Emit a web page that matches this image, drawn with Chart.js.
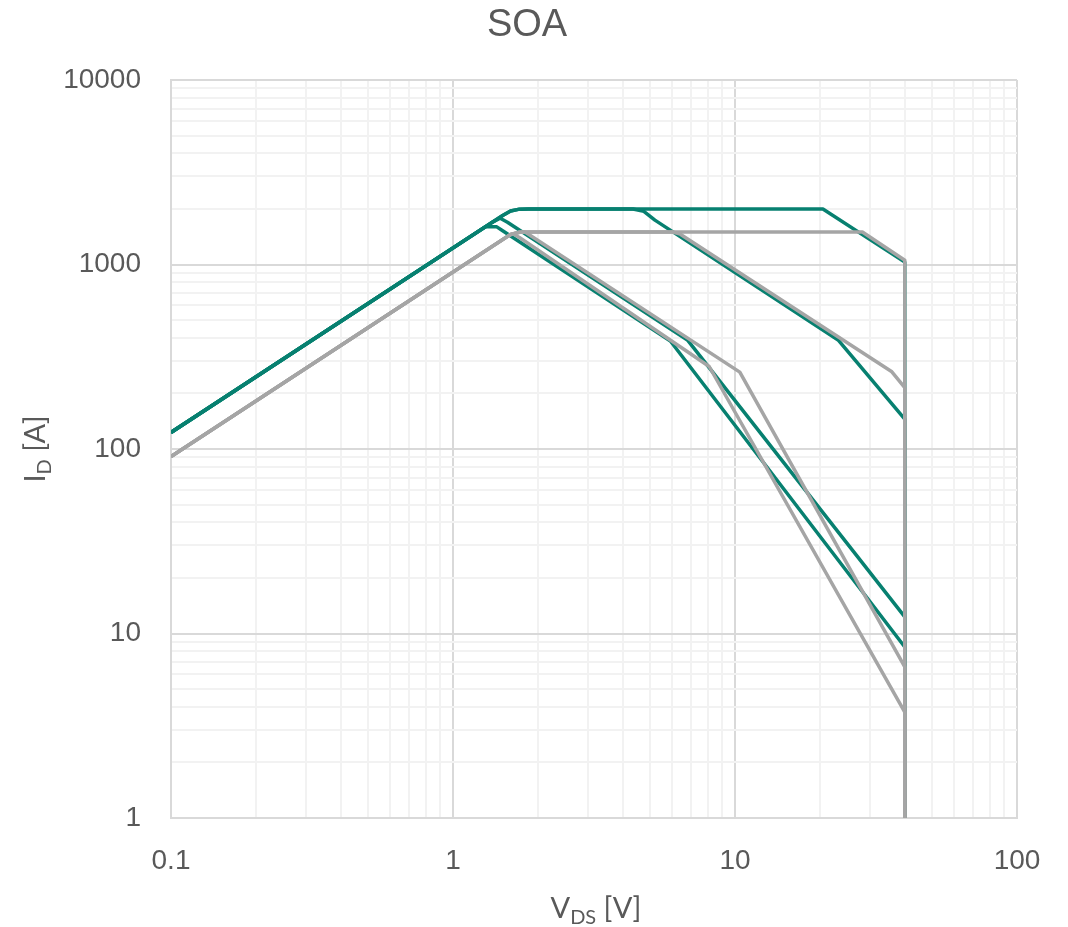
<!DOCTYPE html>
<html><head><meta charset="utf-8">
<script src="https://cdn.jsdelivr.net/npm/chart.js@4.4.1/dist/chart.umd.min.js"></script>
<style>html,body{margin:0;padding:0;background:#fff;}canvas{display:block}</style>
</head><body>
<canvas id="c" width="1068" height="927"></canvas>
<script>
// ---- Data ----
const chartTitle = 'SOA';
const xDecades = [0.1, 1, 10];
const yDecades = [1, 10, 100, 1000];
const mantissas = [1, 2, 3, 4, 5, 6, 7, 8, 9];
const xTickLabels = ['0.1', '1', '10', '100'];
const yTickLabels = ['1', '10', '100', '1000', '10000'];

// teal curves
const teal1V = [0.1, 1.5, 1.6, 1.72, 1.85, 20.5, 40, 40];
const teal1I = [123, 1845, 1950, 1995, 2000, 2000, 1030, 1];
const teal2V = [0.1, 1.5, 1.6, 1.72, 1.85, 4.35, 4.75, 5.2, 23.2, 40, 40];
const teal2I = [123, 1845, 1950, 1995, 2000, 2000, 1940, 1740, 390, 145, 1];
const teal3V = [0.1, 1.38, 1.47, 1.56, 6.8, 40, 40];
const teal3I = [123, 1697, 1780, 1695, 388, 12.3, 1];
const teal4V = [0.1, 1.3, 1.43, 1.5, 5.9, 40, 40];
const teal4I = [123, 1600, 1600, 1525, 385, 8.45, 1];

// gray curves
const gray1V = [0.1, 1.6, 1.72, 1.85, 28.3, 40, 40];
const gray1I = [91, 1456, 1495, 1500, 1500, 1055, 1];
const gray2V = [0.1, 1.6, 1.72, 1.85, 6.0, 6.4, 36, 40, 40];
const gray2I = [91, 1456, 1495, 1500, 1500, 1460, 262, 215, 1];
const gray3V = [0.1, 1.6, 1.72, 1.8, 10.4, 40, 40];
const gray3I = [91, 1456, 1495, 1500, 261, 6.6, 1];
const gray4V = [0.1, 1.55, 1.63, 1.72, 8.1, 40, 40];
const gray4I = [91, 1410, 1468, 1400, 280, 3.75, 1];

const TEAL = '#078070';
const GRAY = '#A5A5A5';

function pts(vs, is) { return vs.map((v, k) => ({ x: v, y: is[k] })); }
function ds(vs, is, color) {
  return { data: pts(vs, is), borderColor: color, backgroundColor: color, borderWidth: 3.5,
    pointRadius: 0, tension: 0, fill: false, borderJoinStyle: 'round', borderCapStyle: 'butt',
    xAxisID: 'x', yAxisID: 'y' };
}
function gridValues(decades, top) {
  const out = [];
  decades.forEach(d => mantissas.forEach(m => out.push(+(d * m).toPrecision(6))));
  out.push(top);
  return out;
}
const xGrid = gridValues(xDecades, 100);
const yGrid = gridValues(yDecades, 10000);
function isMajor(v) { const l = Math.log10(v); return Math.abs(l - Math.round(l)) < 1e-6; }
function majorLabel(v, labels) {
  if (!isMajor(v)) return '';
  const s = labels.find(t => Math.abs(parseFloat(t) - v) < 1e-9);
  return s || '';
}

function drawSub(ctx, main, sub, rest, cx, baseY) {
  const mainFont = '29px Lato', subFont = '20px Lato';
  ctx.font = mainFont; const w1 = ctx.measureText(main).width; const w3 = ctx.measureText(rest).width;
  ctx.font = subFont; const w2 = ctx.measureText(sub).width;
  let x = cx - (w1 + w2 + w3) / 2;
  ctx.textAlign = 'left'; ctx.textBaseline = 'alphabetic';
  ctx.font = mainFont; ctx.fillText(main, x, baseY); x += w1;
  ctx.font = subFont; ctx.fillText(sub, x, baseY + 6); x += w2;
  ctx.font = mainFont; ctx.fillText(rest, x, baseY);
}
const axisTitles = {
  id: 'axisTitles',
  afterDraw(chart) {
    const ctx = chart.ctx, a = chart.chartArea;
    ctx.save();
    ctx.fillStyle = '#595959';
    drawSub(ctx, 'V', 'DS', ' [V]', (a.left + a.right) / 2 + 2, 918);
    ctx.translate(45, (a.top + a.bottom) / 2);
    ctx.rotate(-Math.PI / 2);
    drawSub(ctx, 'I', 'D', ' [A]', 0, 0);
    ctx.restore();
  }
};

new Chart(document.getElementById('c'), {
  type: 'line',
  data: {
    datasets: [
      ds(gray1V, gray1I, GRAY), ds(gray2V, gray2I, GRAY), ds(gray3V, gray3I, GRAY), ds(gray4V, gray4I, GRAY),
      ds(teal1V, teal1I, TEAL), ds(teal2V, teal2I, TEAL), ds(teal3V, teal3I, TEAL), ds(teal4V, teal4I, TEAL)
    ]
  },
  options: {
    responsive: false, animation: false, devicePixelRatio: 1,
    layout: { padding: { left: 0, right: 14, top: 0, bottom: 0 } },
    plugins: {
      legend: { display: false }, tooltip: { enabled: false },
      title: { display: true, text: chartTitle, color: '#595959',
        font: { family: 'Liberation Sans', size: 38, weight: 'normal', lineHeight: 1.2 },
        padding: { top: 3, bottom: 31.4 } }
    },
    scales: {
      x: {
        type: 'logarithmic', min: 0.1, max: 100,
        afterBuildTicks(s) { s.ticks = xGrid.map(v => ({ value: v })); },
        afterFit(s) { s.height = 109; },
        grid: { color: c => isMajor(c.tick.value) ? '#D9D9D9' : '#F2F2F2', lineWidth: 2, drawTicks: false },
        border: { color: '#D9D9D9', width: 2 },
        ticks: { autoSkip: false, maxRotation: 0, padding: 26, color: '#595959',
          font: { family: 'Liberation Sans', size: 28 },
          callback: v => majorLabel(v, xTickLabels) }
      },
      y: {
        type: 'logarithmic', min: 1, max: 10000,
        afterBuildTicks(s) { s.ticks = yGrid.map(v => ({ value: v })); },
        afterFit(s) { s.width = 171; },
        grid: { color: c => isMajor(c.tick.value) ? '#D9D9D9' : '#F2F2F2', lineWidth: 2, drawTicks: false },
        border: { color: '#D9D9D9', width: 2 },
        ticks: { autoSkip: false, padding: 30, color: '#595959',
          font: { family: 'Liberation Sans', size: 28 },
          callback: v => majorLabel(v, yTickLabels) }
      },
      yRight: {
        type: 'linear', position: 'right', display: true,
        afterFit(s) { s.width = 37; },
        grid: { display: false, drawTicks: false },
        border: { display: false },
        ticks: { display: false }
      }
    }
  },
  plugins: [axisTitles]
});
</script>
</body></html>
